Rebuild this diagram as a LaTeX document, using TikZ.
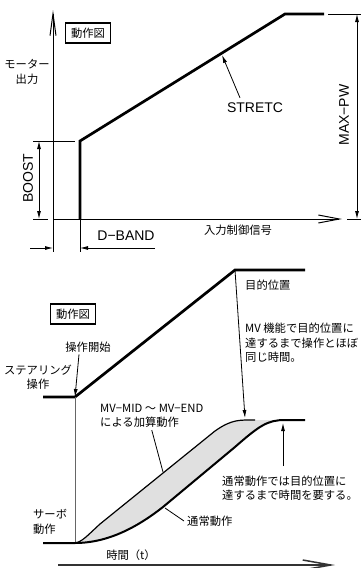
\documentclass[tikz,border=0pt]{standalone}
\usepackage{fontspec}
\setmainfont{Liberation Sans}
\newfontfamily\jp{Noto Sans CJK JP}
\usetikzlibrary{arrows.meta, positioning}

\tikzset{
  jptext/.style={font=\jp\fontsize{11.3}{14.5}\selectfont, inner sep=0pt},
  latin/.style={font=\fontsize{14}{16}\selectfont, inner sep=0pt},
  thickline/.style={line width=2.7pt},
  thinline/.style={line width=0.8pt},
  axisline/.style={line width=1pt, -{Straight Barb[length=21pt,width=8pt]}},
  dimarrow/.style={line width=0.8pt, {Latex[length=8pt,width=4pt]}-{Latex[length=8pt,width=4pt]}},
  pointer/.style={line width=0.8pt, -{Latex[length=8pt,width=4pt]}},
  titlebox/.style={draw, line width=1.8pt, jptext, minimum width=45pt, minimum height=20pt},
}

\begin{document}
\begin{tikzpicture}[x=1pt, y=-1pt]
  \useasboundingbox (0,0) rectangle (361,568);

  % upper graph: motor output
  \coordinate (origin) at (53,219);
  \coordinate (ytop) at (53,10);
  \coordinate (xend) at (342,219);
  \draw[axisline, -{Straight Barb[length=22pt,width=6pt]}] (origin) -- (ytop);
  \draw[axisline] (origin) -- (xend);

  \node[titlebox] (box1) at (88,33) {動作図};
  \node[jptext, align=center] (ylabel) at (27,72) {モーター\\出力};
  \node[jptext] (xlabel) at (238,230) {入力制御信号};

  \coordinate (p0) at (80,219);
  \coordinate (p1) at (80,141);
  \coordinate (p2) at (285,14);
  \coordinate (p3) at (324,14);
  \draw[thickline] (p0) -- (p1) -- (p2) -- (p3);

  \node[latin] (stretc) at (255,108) {STRETC};
  \coordinate (stretcTip) at (222,55);
  \draw[pointer] ([xshift=-15pt,yshift=5pt]stretc.north) -- (stretcTip);

  % MAX-PW
  \coordinate (mpTop) at (357,14);
  \coordinate (mpBot) at (357,219);
  \draw[thinline] (328,14) -- (361,14);
  \draw[thinline] (347,219) -- (361,219);
  \draw[dimarrow] (mpTop) -- (mpBot);
  \node[latin, rotate=90] (maxpw) at (344,115) {MAX−PW};

  % BOOST
  \coordinate (bsTop) at (39,141);
  \coordinate (bsBot) at (39,219);
  \draw[thinline] (33,141) -- (75,141);
  \draw[thinline] (33,219) -- (48,219);
  \draw[dimarrow] (bsTop) -- (bsBot);
  \node[latin, rotate=90] (boost) at (28,178) {BOOST};

  % D-BAND
  \draw[thinline] (origin) -- (53,252);
  \draw[thinline] (p0) -- (80,252);
  \coordinate (dbL) at (53,248);
  \coordinate (dbR) at (80,248);
  \draw[pointer] (30,248) -- (dbL);
  \draw[pointer] (155,248) -- (dbR);
  \node[latin] (dband) at (126,236) {D−BAND};

  % lower graph: steering and servo
  \node[titlebox] (box2) at (73,314) {動作図};

  \coordinate (s0) at (43,397);
  \coordinate (s1) at (75,397);
  \coordinate (s2) at (235,270);
  \coordinate (s3) at (305,270);
  \draw[thickline] (s0) -- (s1) -- (s2) -- (s3);

  \node[jptext] (start) at (88,347) {操作開始};
  \draw[pointer] ([xshift=-9pt,yshift=-2pt]start.south) -- (s1);
  \node[jptext, align=center] (steer) at (38,377) {ステアリング\\操作};

  \coordinate (b0) at (43,543);
  \coordinate (b1) at (75,543);
  \draw[thinline, black!60] (s1) -- (b1);

  % area between the two responses
  \fill[black!12] (b1) .. controls (82,542) and (88,535) .. (100,524) -- (215,431)
    .. controls (232,419) and (240,420) .. (255,420) -- (285,420)
    .. controls (268,420) and (260,425) .. (235,447) -- (163,507)
    .. controls (140,525) and (110,543) .. (b1) -- cycle;
  \draw[line width=1.2pt] (b1) .. controls (82,542) and (88,535) .. (100,524) -- (215,431)
    .. controls (232,419) and (240,420) .. (255,420);
  \draw[line width=2pt] (b0) -- (b1) .. controls (110,543) and (140,525) .. (163,507) -- (235,447)
    .. controls (260,425) and (268,420) .. (285,420) -- (305,420);

  \coordinate (mvTop) at (245,418);
  \draw[pointer] (s2) -- (mvTop);
  \node[jptext, anchor=west] (goal) at (245,285) {目的位置};
  \node[jptext, anchor=west, align=left] (mvnote) at (245,343) {MV 機能で目的位置に\\達するまで操作とほぼ\\同じ時間。};

  \coordinate (mvPt) at (163,472);
  \node[jptext, anchor=west, align=left] (mvlabel) at (100,416) {MV−MID ～ MV−END\\による加算動作};
  \draw[thinline] ([yshift=-2pt]mvlabel.south) -- (mvPt);

  \coordinate (nPt) at (165,508);
  \node[jptext, anchor=west] (normal) at (187,521) {通常動作};
  \draw[thinline] ([xshift=-3pt]normal.west) -- (nPt);

  \coordinate (nTop) at (283,423);
  \coordinate (nBase) at (283,466);
  \node[jptext, anchor=west, align=left] (normalnote) at (222,488) {通常動作では目的位置に\\達するまで時間を要する。};
  \draw[pointer] (nBase) -- (nTop);

  \node[jptext, anchor=west, align=left] (servo) at (33,522) {サーボ\\動作};

  % time axis
  \node[jptext] (tlabel) at (131,555) {時間（t）};
  \coordinate (tStart) at (58,565);
  \coordinate (tEnd) at (335,565);
  \draw[line width=1.5pt, black!80, -{Straight Barb[length=28pt,width=10pt]}] (tStart) -- (tEnd);
\end{tikzpicture}
\end{document}
